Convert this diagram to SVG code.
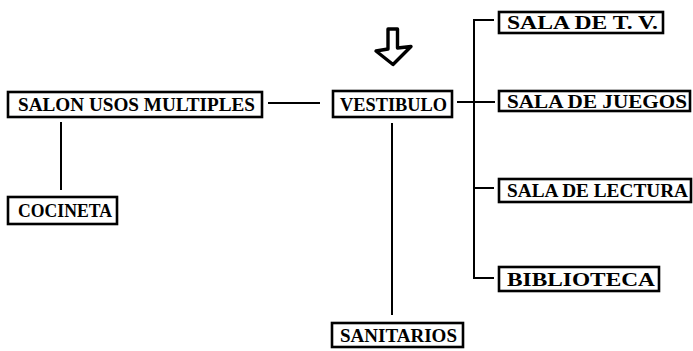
<svg xmlns="http://www.w3.org/2000/svg" width="693" height="351" viewBox="0 0 693 351">
<style>
.box{fill:#fff;stroke:#000;stroke-width:2.6}
.t{font-family:"Liberation Serif","DejaVu Serif",serif;font-weight:bold;font-size:18px;fill:#000}
.c{stroke:#000;stroke-width:2;fill:none}
</style>
<rect width="693" height="351" fill="#fff"/>
<g id="connectors">
<line class="c" x1="268" y1="103" x2="320" y2="103"/>
<line class="c" x1="457" y1="102" x2="495" y2="102"/>
<line class="c" x1="474" y1="20" x2="474" y2="278"/>
<line class="c" x1="473" y1="20" x2="494" y2="20"/>
<line class="c" x1="473" y1="188" x2="494" y2="188"/>
<line class="c" x1="473" y1="278" x2="494" y2="278"/>
<line class="c" x1="392" y1="123" x2="392" y2="315"/>
<line class="c" x1="61" y1="122" x2="61" y2="190"/>
</g>
<g id="entrance-arrow">
<path d="M388,29 H397.5 V48 L411,46.5 L393,64.5 L376,51 L388,49 Z" fill="#fff" stroke="#000" stroke-width="3.4" stroke-linejoin="round"/>
</g>
<g id="salon">
<rect class="box" x="8" y="92" width="254" height="25"/>
<text class="t" x="18" y="111" textLength="237" lengthAdjust="spacingAndGlyphs">SALON USOS MULTIPLES</text>
</g>
<g id="cocineta">
<rect class="box" x="8" y="197" width="109" height="27"/>
<text class="t" x="18" y="217" textLength="94" lengthAdjust="spacingAndGlyphs">COCINETA</text>
</g>
<g id="vestibulo">
<rect class="box" x="333" y="91" width="119" height="26"/>
<text class="t" x="340" y="110.5" textLength="107" lengthAdjust="spacingAndGlyphs">VESTIBULO</text>
</g>
<g id="sala-tv">
<rect class="box" x="499" y="12" width="164" height="21"/>
<text class="t" x="507" y="29" textLength="151" lengthAdjust="spacingAndGlyphs">SALA DE T. V.</text>
</g>
<g id="sala-juegos">
<rect class="box" x="499" y="91" width="191" height="20"/>
<text class="t" x="507" y="107.5" textLength="180" lengthAdjust="spacingAndGlyphs">SALA DE JUEGOS</text>
</g>
<g id="sala-lectura">
<rect class="box" x="499" y="179" width="192" height="23"/>
<text class="t" x="507" y="197" textLength="181" lengthAdjust="spacingAndGlyphs">SALA DE LECTURA</text>
</g>
<g id="biblioteca">
<rect class="box" x="499" y="267" width="160" height="24"/>
<text class="t" x="507" y="285.5" textLength="148" lengthAdjust="spacingAndGlyphs">BIBLIOTECA</text>
</g>
<g id="sanitarios">
<rect class="box" x="332" y="323" width="131" height="24"/>
<text class="t" x="340" y="341.5" textLength="117" lengthAdjust="spacingAndGlyphs">SANITARIOS</text>
</g>
</svg>
